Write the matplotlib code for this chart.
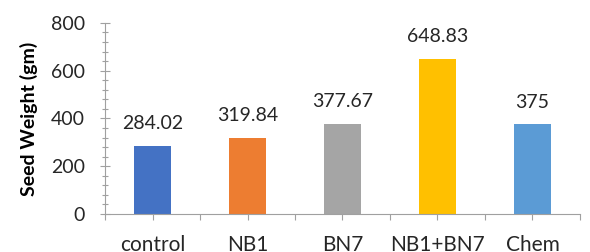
import matplotlib.pyplot as plt
from matplotlib.ticker import MultipleLocator, FixedLocator
import numpy as np

categories = ["control", "NB1", "BN7", "NB1+BN7", "Chem"]
seed_weight = [284.02, 319.84, 377.67, 648.83, 375]
value_labels = ["284.02", "319.84", "377.67", "648.83", "375"]
colors = ["#4472C4", "#ED7D31", "#A5A5A5", "#FFC000", "#5B9BD5"]

plt.rcParams["font.family"] = ["Lato", "DejaVu Sans"]

fig = plt.figure(figsize=(5.9, 2.52), dpi=100)
ax = fig.add_axes([0.178, 0.151, 0.805, 0.758])

x = np.arange(len(categories))
ax.bar(x, seed_weight, width=0.39, color=colors, zorder=2)

for xi, v, lab in zip(x, seed_weight, value_labels):
    ax.annotate(lab, (xi, v), xytext=(0, 12), textcoords="offset points",
                ha="center", va="baseline", fontsize=14, color="#262626")

ax.set_xlim(-0.5, len(categories) - 0.5)
ax.set_ylim(0, 800)

# y axis: major every 200, minor every 40, ticks cross the axis line
ax.yaxis.set_major_locator(MultipleLocator(200))
ax.yaxis.set_minor_locator(MultipleLocator(40))
ax.tick_params(axis="y", which="major", direction="inout", length=7, width=0.8,
               color="#a0a0a0", labelsize=14, pad=11, labelcolor="#262626")
ax.tick_params(axis="y", which="minor", direction="inout", length=5, width=0.8,
               color="#a0a0a0")

# x axis: labels at centres, extra ticks at category boundaries
ax.set_xticks(x)
ax.set_xticklabels(categories)
ax.xaxis.set_minor_locator(FixedLocator(np.arange(-0.5, len(categories), 1.0)))
ax.tick_params(axis="x", which="both", direction="out", length=4, width=0.8,
               color="#a0a0a0")
ax.tick_params(axis="x", which="major", labelsize=15, pad=11, labelcolor="#262626")

for side in ["top", "right"]:
    ax.spines[side].set_visible(False)
for side in ["left", "bottom"]:
    ax.spines[side].set_color("#a0a0a0")
    ax.spines[side].set_linewidth(0.8)

ax.set_ylabel("Seed Weight (gm)", fontsize=14, fontweight="bold", labelpad=9)

fig.savefig("out.png", dpi=100, facecolor="white")
